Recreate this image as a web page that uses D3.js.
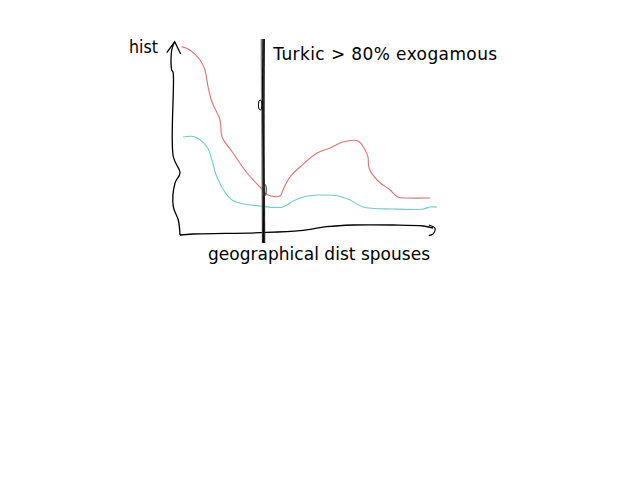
<!DOCTYPE html>
<html>
<head>
<meta charset="utf-8">
<script src="https://cdn.jsdelivr.net/npm/d3@7"></script>
<style>
  html, body { margin: 0; padding: 0; background: #fff; }
  svg { display: block; }
  text { font-family: "DejaVu Sans", sans-serif; font-size: 17px; fill: #000; }
</style>
</head>
<body>
<svg id="chart" width="640" height="480"></svg>
<script>
// ---- data (distance between spouses vs. histogram height) ----
const redDist   = [0.65, 3.8, 7.7, 9.6, 10.8, 12.3, 15.4, 16.2, 20.4, 25.8, 30.8, 33.8, 38.5, 39.6, 42.3, 46.2, 52.7, 57.7, 62.7, 68.5, 71.2, 72.3, 72.7, 75.8, 80.8, 83.8, 87.3, 96.2];
const redHist   = [96.7, 95, 90, 85, 76.5, 69, 60, 51.5, 43.5, 33.5, 26.5, 22.5, 22, 25, 31.5, 36.5, 43.5, 46, 49, 49.5, 45, 41.5, 36, 30, 25, 21.5, 21, 21];
const cyanDist  = [1.2, 5.8, 10.4, 12.3, 14.2, 20, 30.8, 39.6, 43.5, 49.2, 60.8, 65.4, 70.4, 81.9, 93.5, 96.2, 98.8];
const cyanHist  = [51.5, 51.5, 46.5, 40, 31.5, 20, 17, 16.5, 19.5, 22, 22, 20, 16.5, 15.5, 15.5, 16.5, 16.5];
const markerDist = 32;
const labels = { y: "hist", x: "geographical dist spouses", marker: "Turkic > 80% exogamous" };

// hand-drawn axis strokes (in data units)
const yAxisX = [-2.04, -3.19, -3.19, -2.69, -2.58, 0, -1.92, -2.58, -0.65, 0];
const yAxisY = [99.15, 95, 85, 84, 41.65, 33.5, 28.5, 16.65, 10, 2.5];
const yArrowX = [-5.1, -2.04, 0.27];
const yArrowY = [93.65, 99.15, 93];
const xAxisX = [0, 5, 30.8, 46.2, 56.4, 66.5, 81.9, 93.5, 97.3];
const xAxisY = [2.5, 3, 3.65, 4.65, 6.65, 7.5, 7.5, 7, 6];
const xArrowX = [95.7, 98.1, 97.3, 95.7];
const xArrowY = [7.5, 5.85, 3, 2.15];

// ---- drawing ----
const svg = d3.select("#chart");
const x = d3.scaleLinear().domain([0, 100]).range([180, 440]);
const y = d3.scaleLinear().domain([0, 100]).range([240, 40]);

const zip = (xs, ys) => xs.map((v, i) => [v, ys[i]]);
const lineC = d3.line().x(d => x(d[0])).y(d => y(d[1])).curve(d3.curveCatmullRom.alpha(0.5));
const lineL = d3.line().x(d => x(d[0])).y(d => y(d[1]));

// axes
svg.append("path").attr("d", lineC(zip(yAxisX, yAxisY)))
  .attr("fill", "none").attr("stroke", "#000").attr("stroke-width", 1.3);
svg.append("path").attr("d", lineL(zip(yArrowX, yArrowY)))
  .attr("fill", "none").attr("stroke", "#000").attr("stroke-width", 1.3);
svg.append("path").attr("d", lineC(zip(xAxisX, xAxisY)))
  .attr("fill", "none").attr("stroke", "#000").attr("stroke-width", 1.3);
svg.append("path").attr("d", lineC(zip(xArrowX, xArrowY)))
  .attr("fill", "none").attr("stroke", "#000").attr("stroke-width", 1.3);

// series
svg.append("path").attr("d", lineC(zip(redDist, redHist)))
  .attr("fill", "none").attr("stroke", "#dd7373").attr("stroke-width", 1.1);
svg.append("path").attr("d", lineC(zip(cyanDist, cyanHist)))
  .attr("fill", "none").attr("stroke", "#6ccfcb").attr("stroke-width", 1.1);

// vertical marker: several overlapping hand strokes
const mx = x(markerDist);
const strokes = [
  { dx0: -1.2, dx1: 0.3, c: "#000", w: 1.4 },
  { dx0: 0.3, dx1: 1.5, c: "#222", w: 1.2 },
  { dx0: -2.0, dx1: -0.8, c: "#888", w: 1.2 },
  { dx0: 1.2, dx1: -0.5, c: "#111", w: 1.1 }
];
strokes.forEach(s => {
  svg.append("line")
    .attr("x1", mx + s.dx0).attr("y1", y(100.5))
    .attr("x2", mx + s.dx1).attr("y2", y(-1.5))
    .attr("stroke", s.c).attr("stroke-width", s.w);
});
// small loops on the marker
svg.append("ellipse").attr("cx", mx - 3).attr("cy", y(67.5)).attr("rx", 1.8).attr("ry", 5)
  .attr("fill", "none").attr("stroke", "#000").attr("stroke-width", 1);
svg.append("ellipse").attr("cx", mx + 1.5).attr("cy", y(25)).attr("rx", 1.6).attr("ry", 6)
  .attr("fill", "none").attr("stroke", "#333").attr("stroke-width", 1);

// labels
svg.append("text").attr("x", 129).attr("y", 52.5)
  .attr("textLength", 29).attr("lengthAdjust", "spacingAndGlyphs").text(labels.y);
svg.append("text").attr("x", mx + 10).attr("y", 59.5)
  .attr("textLength", 224).attr("lengthAdjust", "spacing").text(labels.marker);
svg.append("text").attr("x", 208).attr("y", 259.5)
  .attr("textLength", 222).attr("lengthAdjust", "spacing").text(labels.x);
</script>
</body>
</html>
